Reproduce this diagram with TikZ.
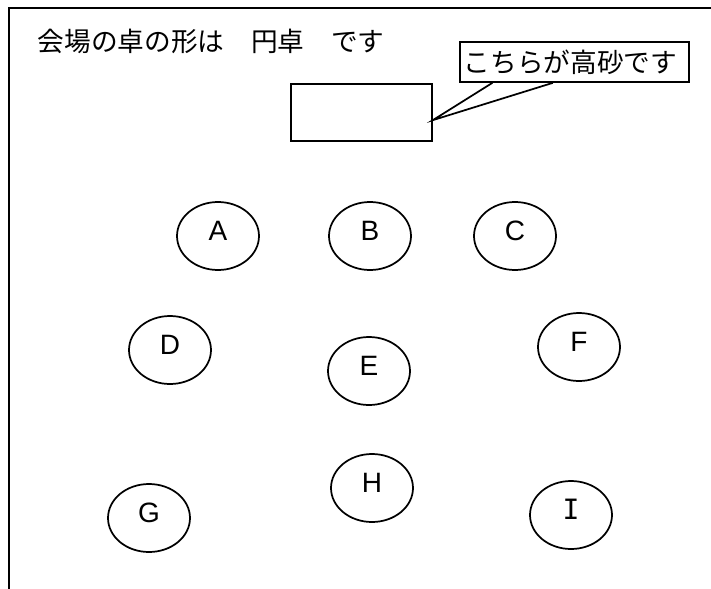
\documentclass[tikz,border=0pt]{standalone}
\usepackage{fontspec}
\setmainfont{Noto Sans CJK JP}
\newfontfamily\seatfont{Liberation Sans}
\newfontfamily\seatmono{DejaVu Sans Mono}
\usepackage{tikz}
\usetikzlibrary{positioning,calc,shapes.geometric}
\tikzstyle{seat}=[draw,ellipse,minimum width=61.5pt,minimum height=51pt,inner sep=0pt,font=\seatfont\fontsize{21pt}{25pt}\selectfont,text height=15pt,text depth=9pt]
\tikzstyle{headtable}=[draw,rectangle,minimum width=105.75pt,minimum height=42.75pt,inner sep=0pt]
\tikzstyle{bubble}=[draw,rectangle,fill=white,minimum width=171.75pt,minimum height=30pt,inner sep=0pt,font=\fontsize{20pt}{24pt}\selectfont]

\begin{document}
\begin{tikzpicture}[x=0.75pt,y=-0.75pt,line width=1.3pt]
\useasboundingbox (0,0) rectangle (711,589);
\draw (9,589) -- (9,8) -- (711,8);
\node [anchor=west,inner sep=0pt,font=\fontsize{20pt}{24pt}\selectfont] (title) at (37,41) {会場の卓の形は　円卓　です};
% head table and its callout
\node [headtable] (koza) at (361.5,112.5) {};
\node [bubble] (kochira) at (574.5,62) {\hspace*{-6pt}こちらが高砂です};
\coordinate (tip) at ($(koza.north east)!0.63!(koza.south east)$);
\draw ($(kochira.south west)!0.144!(kochira.south east)$) -- (tip) -- ($(kochira.south west)!0.406!(kochira.south east)$);
% guest tables
\node [seat] (A) at (218,236) {A};
\node [seat] (B) at (370,236) {B};
\node [seat] (C) at (515,236) {C};
\node [seat] (D) at (170,350) {D};
\node [seat] (E) at (369,371) {E};
\node [seat] (F) at (579,347) {F};
\node [seat] (G) at (149,518) {G};
\node [seat] (H) at (372,488) {H};
\node [seat,font=\seatmono\fontsize{21pt}{25pt}\selectfont] (I) at (571,515) {I};
\end{tikzpicture}
\end{document}
